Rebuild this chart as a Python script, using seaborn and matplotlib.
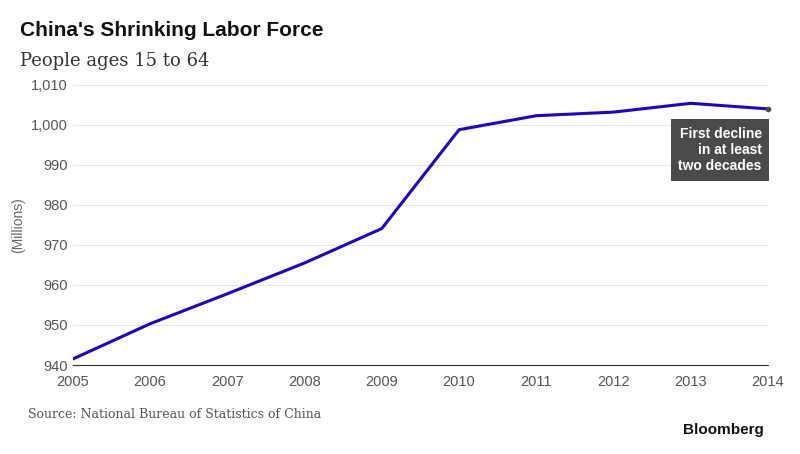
import matplotlib
matplotlib.use("Agg")
import matplotlib.pyplot as plt
import seaborn as sns
import pandas as pd

years = [2005, 2006, 2007, 2008, 2009, 2010, 2011, 2012, 2013, 2014]
labor = [941.5, 950.3, 957.8, 965.5, 974.1, 998.8, 1002.3, 1003.2, 1005.4, 1004.0]
yticks = [940, 950, 960, 970, 980, 990, 1000, 1010]
ytick_labels = ["940", "950", "960", "970", "980", "990", "1,000", "1,010"]

df = pd.DataFrame({"year": years, "labor": labor})

sns.set_style("white")
plt.rcParams['font.family'] = ['Liberation Sans', 'DejaVu Sans']

fig = plt.figure(figsize=(8, 4.54), dpi=100)
ax = fig.add_axes([0.091, 0.196, 0.869, 0.617])
sns.lineplot(data=df, x="year", y="labor", color="#2200cc", linewidth=2.2, ax=ax)

ax.set_xlim(2005, 2014)
ax.set_ylim(940, 1010)
ax.set_xticks(years)
ax.set_xticklabels([str(y) for y in years])
ax.set_yticks(yticks)
ax.set_yticklabels(ytick_labels)
ax.set_xlabel("")
ax.set_ylabel("(Millions)", color="#666666", fontsize=10)
ax.grid(axis="y", color="#e6e6e6", linewidth=0.8)
for s in ["top", "right", "left"]:
    ax.spines[s].set_visible(False)
ax.spines["bottom"].set_color("#333333")
ax.tick_params(axis="both", colors="#555555", labelsize=10.5, length=0)
ax.tick_params(axis="x", length=4, color="#333333", direction="out")

ax.text(2013.92, 999.6, "First decline\nin at least\ntwo decades", color="white",
        fontsize=10, fontweight="bold", va="top", ha="right", linespacing=1.2,
        bbox=dict(boxstyle="square,pad=0.55", fc="#4a4a4a", ec="none"))
ax.plot([2014], [1004.0], marker="o", markersize=3, color="#4a4a4a", clip_on=False)

fig.text(0.025, 0.92, "China's Shrinking Labor Force", fontsize=15, fontweight="bold", color="#111111")
fig.text(0.025, 0.855, "People ages 15 to 64", fontsize=13, color="#333333", family="serif")
fig.text(0.035, 0.08, "Source: National Bureau of Statistics of China", fontsize=9,
         color="#555555", family="serif")
fig.text(0.955, 0.045, "Bloomberg", fontsize=11, fontweight="bold", color="#111111", ha="right")

fig.savefig("out.png", dpi=100)
